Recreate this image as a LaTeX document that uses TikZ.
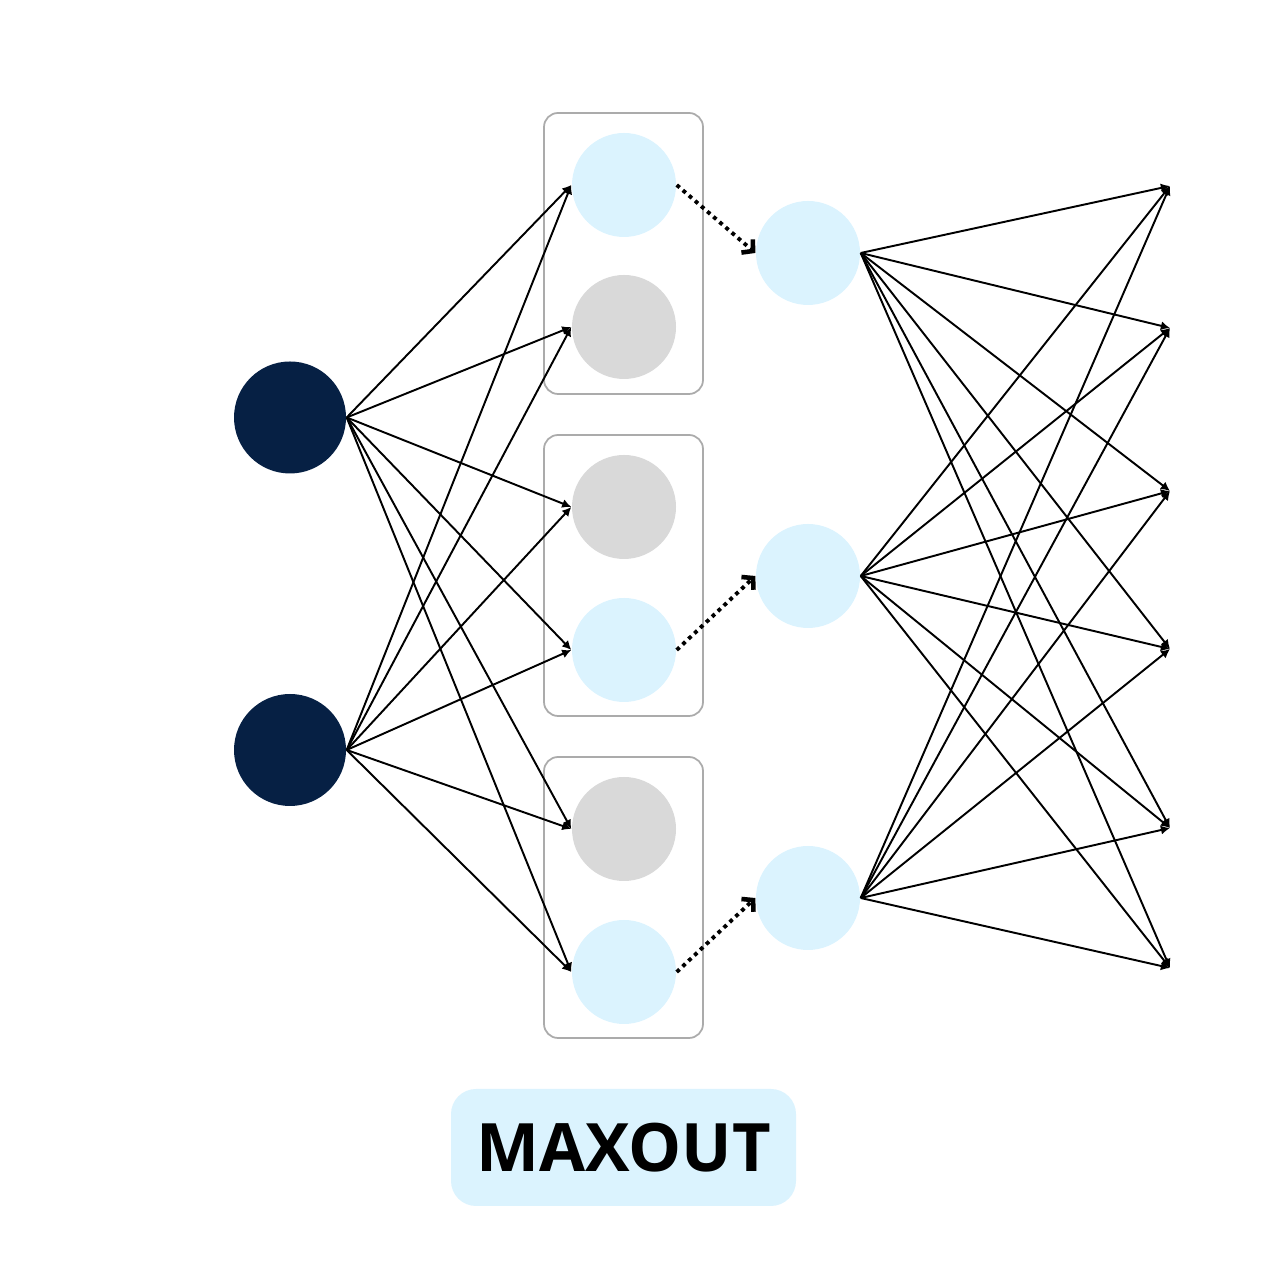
\documentclass[tikz,border=0pt]{standalone}
\usepackage{fontspec}
\setmainfont{Open Sans}
\usetikzlibrary{arrows.meta}

\definecolor{navy}{HTML}{062044}
\definecolor{paleblue}{HTML}{DBF3FE}
\definecolor{unitgray}{HTML}{D9D9D9}
\definecolor{boxgray}{HTML}{ABABAB}

\begin{document}
\begin{tikzpicture}[
	input/.style={circle, fill=navy, minimum size=1.12cm, inner sep=0pt},
	unit/.style={circle, fill=paleblue, minimum size=1.04cm, inner sep=0pt},
	dropped/.style={circle, fill=unitgray, minimum size=1.04cm, inner sep=0pt},
	group/.style={draw=boxgray, line width=0.5pt, rounded corners=4pt},
	wire/.style={black, line width=0.55pt, -{Latex[length=2.6pt,width=2.6pt]}},
	pick/.style={black, line width=1.1pt, dash pattern=on 1.1pt off 1.2pt, -{Straight Barb[length=2.2pt,width=5pt,line width=1.3pt]}}
]
	\useasboundingbox (0,0) rectangle (12.72,12.88);

	% draw groups of units
	\draw[group] (5.44,8.94) rectangle (7.03,11.75);
	\draw[group] (5.44,5.72) rectangle (7.03,8.53);
	\draw[group] (5.44,2.50) rectangle (7.03,5.31);

	% draw input nodes
	\node[input] (in1) at (2.90,8.705) {};
	\node[input] (in2) at (2.90,5.38) {};

	% draw units, only the max of each group goes on
	\node[unit] (h1) at (6.24,11.03) {};
	\node[dropped] (h2) at (6.24,9.61) {};
	\node[dropped] (h3) at (6.24,7.81) {};
	\node[unit] (h4) at (6.24,6.38) {};
	\node[dropped] (h5) at (6.24,4.59) {};
	\node[unit] (h6) at (6.24,3.16) {};

	% draw maxout nodes
	\node[unit] (m1) at (8.08,10.35) {};
	\node[unit] (m2) at (8.08,7.12) {};
	\node[unit] (m3) at (8.08,3.90) {};

	% next layer, only the arrow tips are drawn
	\coordinate (o1) at (11.70,11.02);
	\coordinate (o2) at (11.70,9.60);
	\coordinate (o3) at (11.70,7.97);
	\coordinate (o4) at (11.70,6.39);
	\coordinate (o5) at (11.70,4.60);
	\coordinate (o6) at (11.70,3.20);

	% every input feeds every unit
	\foreach \i in {1,2} {
		\foreach \j in {1,...,6} {
			\draw[wire] (in\i.east) -- (h\j.west);
		}
	}

	% max of each group
	\draw[pick] (h1.east) -- (m1.west);
	\draw[pick] (h4.east) -- (m2.west);
	\draw[pick] (h6.east) -- (m3.west);

	% maxout nodes to next layer
	\foreach \i in {1,2,3} {
		\foreach \j in {1,...,6} {
			\draw[wire] (m\i.east) -- (o\j);
		}
	}

	% title
	\node[fill=paleblue, rounded corners=0.25cm, minimum width=3.45cm, minimum height=1.17cm, inner sep=0pt] (title) at (6.235,1.405) {\fontsize{19}{23}\selectfont\bfseries MAXOUT};
\end{tikzpicture}
\end{document}
